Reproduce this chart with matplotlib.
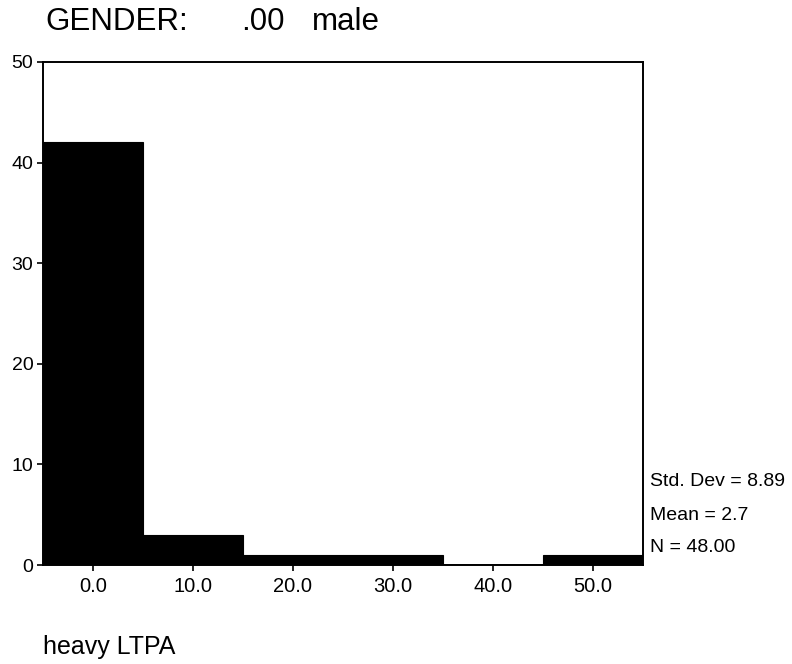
import matplotlib
matplotlib.use("Agg")
import matplotlib.pyplot as plt

plt.rcParams['font.family'] = ['Liberation Sans', 'DejaVu Sans']

bin_centers = [0.0, 10.0, 20.0, 30.0, 40.0, 50.0]
counts = [42, 3, 1, 1, 0, 1]
bin_width = 10.0
x_tick_labels = ["0.0", "10.0", "20.0", "30.0", "40.0", "50.0"]
y_ticks = [0, 10, 20, 30, 40, 50]
stats_lines = ["Std. Dev = 8.89", "Mean = 2.7", "N = 48.00"]
title_parts = ["GENDER:", ".00", "male"]

fig = plt.figure(figsize=(7.92, 6.64), dpi=100)
ax = fig.add_axes([43 / 792, 1 - 565 / 664, 600 / 792, 503 / 664])

ax.bar(bin_centers, counts, width=bin_width, color="black", edgecolor="black",
       linewidth=0.8, align="center")
ax.plot([35, 45], [0, 0], color="black", linewidth=1.2)

ax.set_xlim(-5, 55)
ax.set_ylim(0, 50)
ax.set_xticks(bin_centers)
ax.set_xticklabels(x_tick_labels)
ax.set_yticks(y_ticks)
ax.tick_params(axis="both", direction="out", length=4, width=1.2, color="black")
ax.tick_params(axis="y", pad=3, labelsize=14)
ax.tick_params(axis="x", pad=5, labelsize=14.5)
for s in ax.spines.values():
    s.set_linewidth(1.4)
    s.set_color("black")

# split heading: variable name, value code, value label
for xpix, part in zip([45, 241, 312], title_parts):
    fig.text(xpix / 792, 1 - 22 / 664, part, fontsize=22.5,
             ha="left", va="center")
fig.text(43 / 792, 1 - 647 / 664, "heavy LTPA", fontsize=18,
         ha="left", va="center")
for ypix, line in zip([481, 515, 548], stats_lines):
    fig.text(650 / 792, 1 - ypix / 664, line, fontsize=14, ha="left", va="center")

fig.savefig("out.png", dpi=100, facecolor="white")
